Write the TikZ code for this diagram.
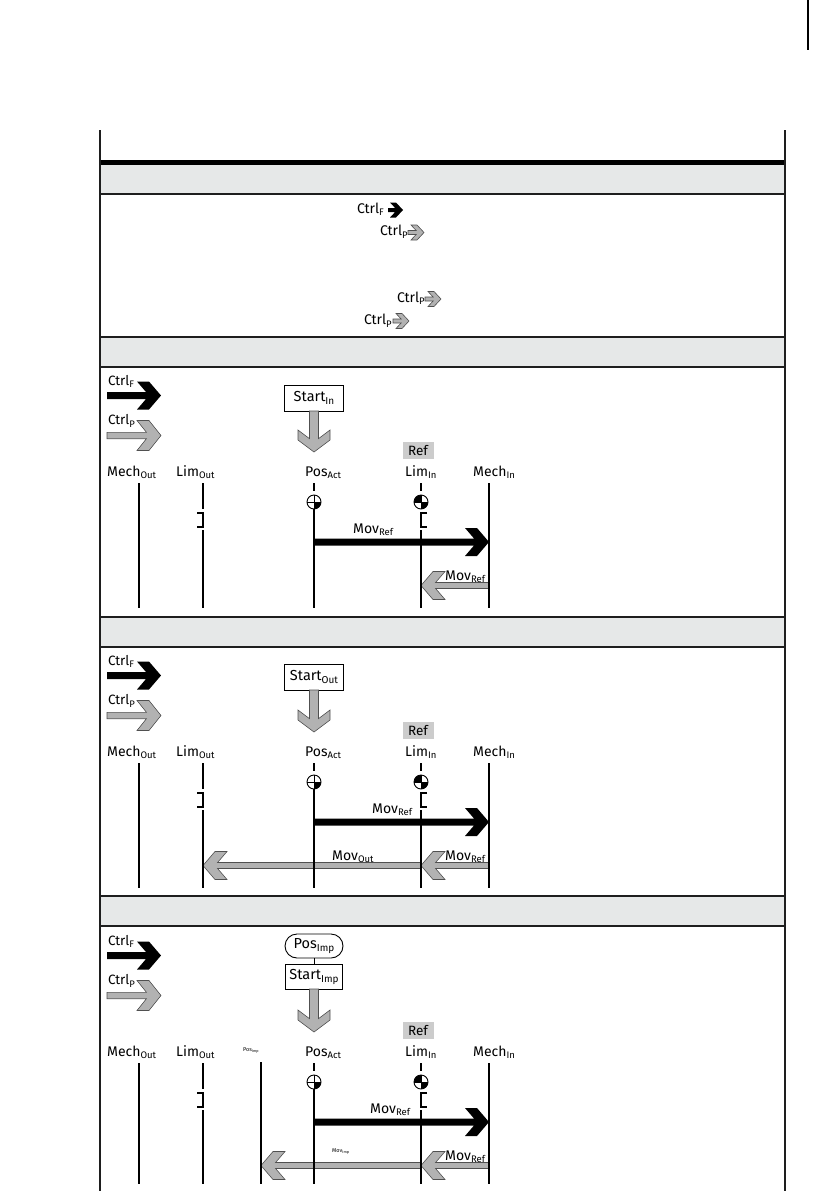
\documentclass[tikz,border=0pt]{standalone}
\usepackage{fontspec}
\setmainfont{Fira Sans}
\definecolor{hdrgray}{RGB}{230,232,232}
\definecolor{refgray}{RGB}{204,204,204}
\definecolor{arrgray}{RGB}{178,178,178}
\definecolor{arredge}{RGB}{80,80,80}
\definecolor{rulecol}{RGB}{30,30,30}

\newcommand\lbl[3][9.5]{#2\raisebox{-0.3\dimexpr#1pt\relax}{\fontsize{#1}{#1}\selectfont #3}}

% style, start, angle, length, shaft half, head half, head slant, head thickness
\newcommand\fatarrow[8]{%
 \begin{scope}[shift={#2},rotate=#3]
  \pgfmathsetmacro\fax{#4-#8-#7*#5/#6}
  \path[#1] (0,-#5) -- (\fax,-#5) -- ({#4-#7-#8},-#6) -- ({#4-#7},-#6) -- (#4,0)
   -- ({#4-#7},#6) -- ({#4-#7-#8},#6) -- (\fax,#5) -- (0,#5) -- cycle;
 \end{scope}}

\newcommand\possym[1]{%
 \begin{scope}[shift={#1}]
  \fill (0,0) -- (7,0) arc[start angle=0,end angle=90,radius=7] -- cycle;
  \draw[line width=0.9pt] (0,0) circle[radius=7];
  \draw[line width=0.5pt] (-7,0) -- (7,0) (0,-7) -- (0,7);
 \end{scope}}
\newcommand\limsym[1]{%
 \begin{scope}[shift={#1}]
  \fill (0,0) -- (7,0) arc[start angle=0,end angle=90,radius=7] -- cycle;
  \fill (0,0) -- (-7,0) arc[start angle=180,end angle=270,radius=7] -- cycle;
  \draw[line width=0.9pt] (0,0) circle[radius=7];
  \draw[line width=0.5pt] (-7,0) -- (7,0) (0,-7) -- (0,7);
 \end{scope}}

\newcommand\ctrlpair[1]{%
 \fatarrow{fill=black}{(107,395.5)}{0}{54}{3.5}{14}{12}{12}
 \node[clab] (#1cf) at (108,385) {\lbl[9.5]{Ctrl}{F}};
 \fatarrow{garr}{(107,435.5)}{0}{54}{3.2}{15}{12}{12}
 \node[clab] (#1cp) at (108,424.5) {\lbl[9.5]{Ctrl}{P}};
}

% prefix, Mov_Ref label x, bottom of lines
\newcommand\commonpanel[3]{%
 \fatarrow{fill=black}{(314,542)}{0}{175}{3.5}{14}{12}{12}
 \node[lab] (#1mo) at (107,476) {\lbl{Mech}{Out}};
 \node[lab] (#1lo) at (176,476) {\lbl{Lim}{Out}};
 \node[lab] (#1pa) at (305,476) {\lbl{Pos}{Act}};
 \node[lab] (#1li) at (405,476) {\lbl{Lim}{In}};
 \node[lab] (#1mi) at (473,476) {\lbl{Mech}{In}};
 \node[refbox] (#1ref) at (418,450.5) {Ref};
 \draw[vline] (139,483) -- (139,#3);
 \draw[vline] (203,483) -- (203,509) (203,530) -- (203,#3);
 \draw[brk] (197,513) -- (203,513) -- (203,527) -- (197,527);
 \draw[vline] (314,483) -- (314,491) (314,509) -- (314,#3);
 \draw[vline] (421,483) -- (421,491) (421,530) -- (421,#3);
 \draw[brk] (427,513) -- (421,513) -- (421,527) -- (427,527);
 \draw[vline] (489,483) -- (489,#3);
 \possym{(314,502)}
 \limsym{(421,502)}
 \node[lab] (#1mrl) at (#2,533) {\lbl{Mov}{Ref}};
}

\begin{document}
\begin{tikzpicture}[x=1pt,y=-1pt,
  lab/.style={anchor=base west, inner sep=0pt, font=\fontsize{14}{14}\selectfont},
  clab/.style={anchor=base west, inner sep=0pt, font=\fontsize{13.5}{13.5}\selectfont},
  slab/.style={anchor=base west, inner sep=0pt, font=\fontsize{14}{14}\selectfont},
  tlab/.style={anchor=base west, inner sep=0pt, font=\fontsize{5.5}{5.5}\selectfont},
  box/.style={draw, line width=0.9pt, inner sep=0pt, minimum width=59, minimum height=26, font=\fontsize{14.5}{14.5}\selectfont},
  refbox/.style={fill=refgray, inner sep=0pt, minimum width=31, minimum height=17, font=\fontsize{13.5}{13.5}\selectfont},
  garr/.style={fill=arrgray, draw=arredge, line width=0.6pt},
  vline/.style={line width=1.1pt},
  brk/.style={line width=1.8pt},
  rulel/.style={line width=1.3pt, draw=rulecol}]
\useasboundingbox (0,0) rectangle (839,1191);

% page mark
\draw[line width=1.2pt] (808,0) -- (808,50);

% header bands
\fill[hdrgray] (100,165) rectangle (785,194);
\fill[hdrgray] (100,337) rectangle (785,367);
\fill[hdrgray] (100,617) rectangle (785,647);
\fill[hdrgray] (100,896) rectangle (785,926);
\fill (100,160) rectangle (785,165);
\draw[rulel] (100,194) -- (785,194);
\draw[rulel] (100,337) -- (785,337) (100,367) -- (785,367);
\draw[rulel] (100,617) -- (785,617) (100,647) -- (785,647);
\draw[rulel] (100,896) -- (785,896) (100,926) -- (785,926);
\draw[rulel] (100,130) -- (100,1191) (785,130) -- (785,1191);

% section 1
\node[slab] (t1) at (357,213) {\lbl[9.5]{Ctrl}{F}};
\fatarrow{fill=black}{(388,210)}{0}{15}{2}{7.5}{7}{6}
\node[slab] (t2) at (380,235.5) {\lbl[9.5]{Ctrl}{P}};
\fatarrow{garr}{(408,232.5)}{0}{16}{2}{7.5}{7}{6}
\node[slab] (t3) at (397,302) {\lbl[9.5]{Ctrl}{P}};
\fatarrow{garr}{(425,299)}{0}{16}{2}{7.5}{7}{6}
\node[slab] (t4) at (364,324.5) {\lbl[9.5]{Ctrl}{P}};
\fatarrow{garr}{(393,321)}{0}{16}{2}{7.5}{7}{6}

% panel 1
\ctrlpair{a}
\node[box] (aS) at (314,398) {\lbl[10]{Start}{In}};
\fatarrow{garr}{(314,411)}{-90}{41}{4.5}{16}{12}{10}
\fatarrow{garr}{(489,585.5)}{180}{68}{3}{14}{12}{12}
\node[lab] (amr2) at (445,580) {\lbl{Mov}{Ref}};
\commonpanel{a}{353}{608}

% panel 2
\begin{scope}[shift={(0,280)}]
\ctrlpair{b}
\node[box] (bS) at (314,397) {\lbl[10]{Start}{Out}};
\fatarrow{garr}{(314,410)}{-90}{42}{4.5}{16}{12}{10}
\fatarrow{garr}{(421,585.5)}{180}{218}{3}{14}{12}{12}
\fatarrow{garr}{(489,585.5)}{180}{68}{3}{14}{12}{12}
\node[lab] (bmo2) at (332,580) {\lbl{Mov}{Out}};
\node[lab] (bmr2) at (445,580) {\lbl{Mov}{Ref}};
\commonpanel{b}{372}{608}
\end{scope}

% panel 3
\begin{scope}[shift={(0,560)}]
\ctrlpair{c}
\end{scope}
\begin{scope}[shift={(0,580)}]
\node[box, rounded corners=12, minimum height=24, minimum width=58] (cPI) at (314,366) {\lbl[10]{Pos}{Imp}};
\node[box, minimum width=57, minimum height=25] (cSI) at (314,396.5) {\lbl[10]{Start}{Imp}};
\draw[line width=0.8pt] (cPI) -- (cSI);
\fatarrow{garr}{(314,409)}{-90}{43}{4.5}{16}{12}{10}
\fatarrow{garr}{(421,585.5)}{180}{160}{3}{14}{12}{12}
\fatarrow{garr}{(489,585.5)}{180}{68}{3}{14}{12}{12}
\node[tlab] (cpil) at (243,471) {\lbl[3.8]{Pos}{Imp}};
\node[tlab] (cmil) at (332,572) {\lbl[3.8]{Mov}{Imp}};
\node[lab] (cmr2) at (445,580) {\lbl{Mov}{Ref}};
\draw[vline] (261,482) -- (261,604);
\commonpanel{c}{370}{604}
\end{scope}
\end{tikzpicture}
\end{document}
